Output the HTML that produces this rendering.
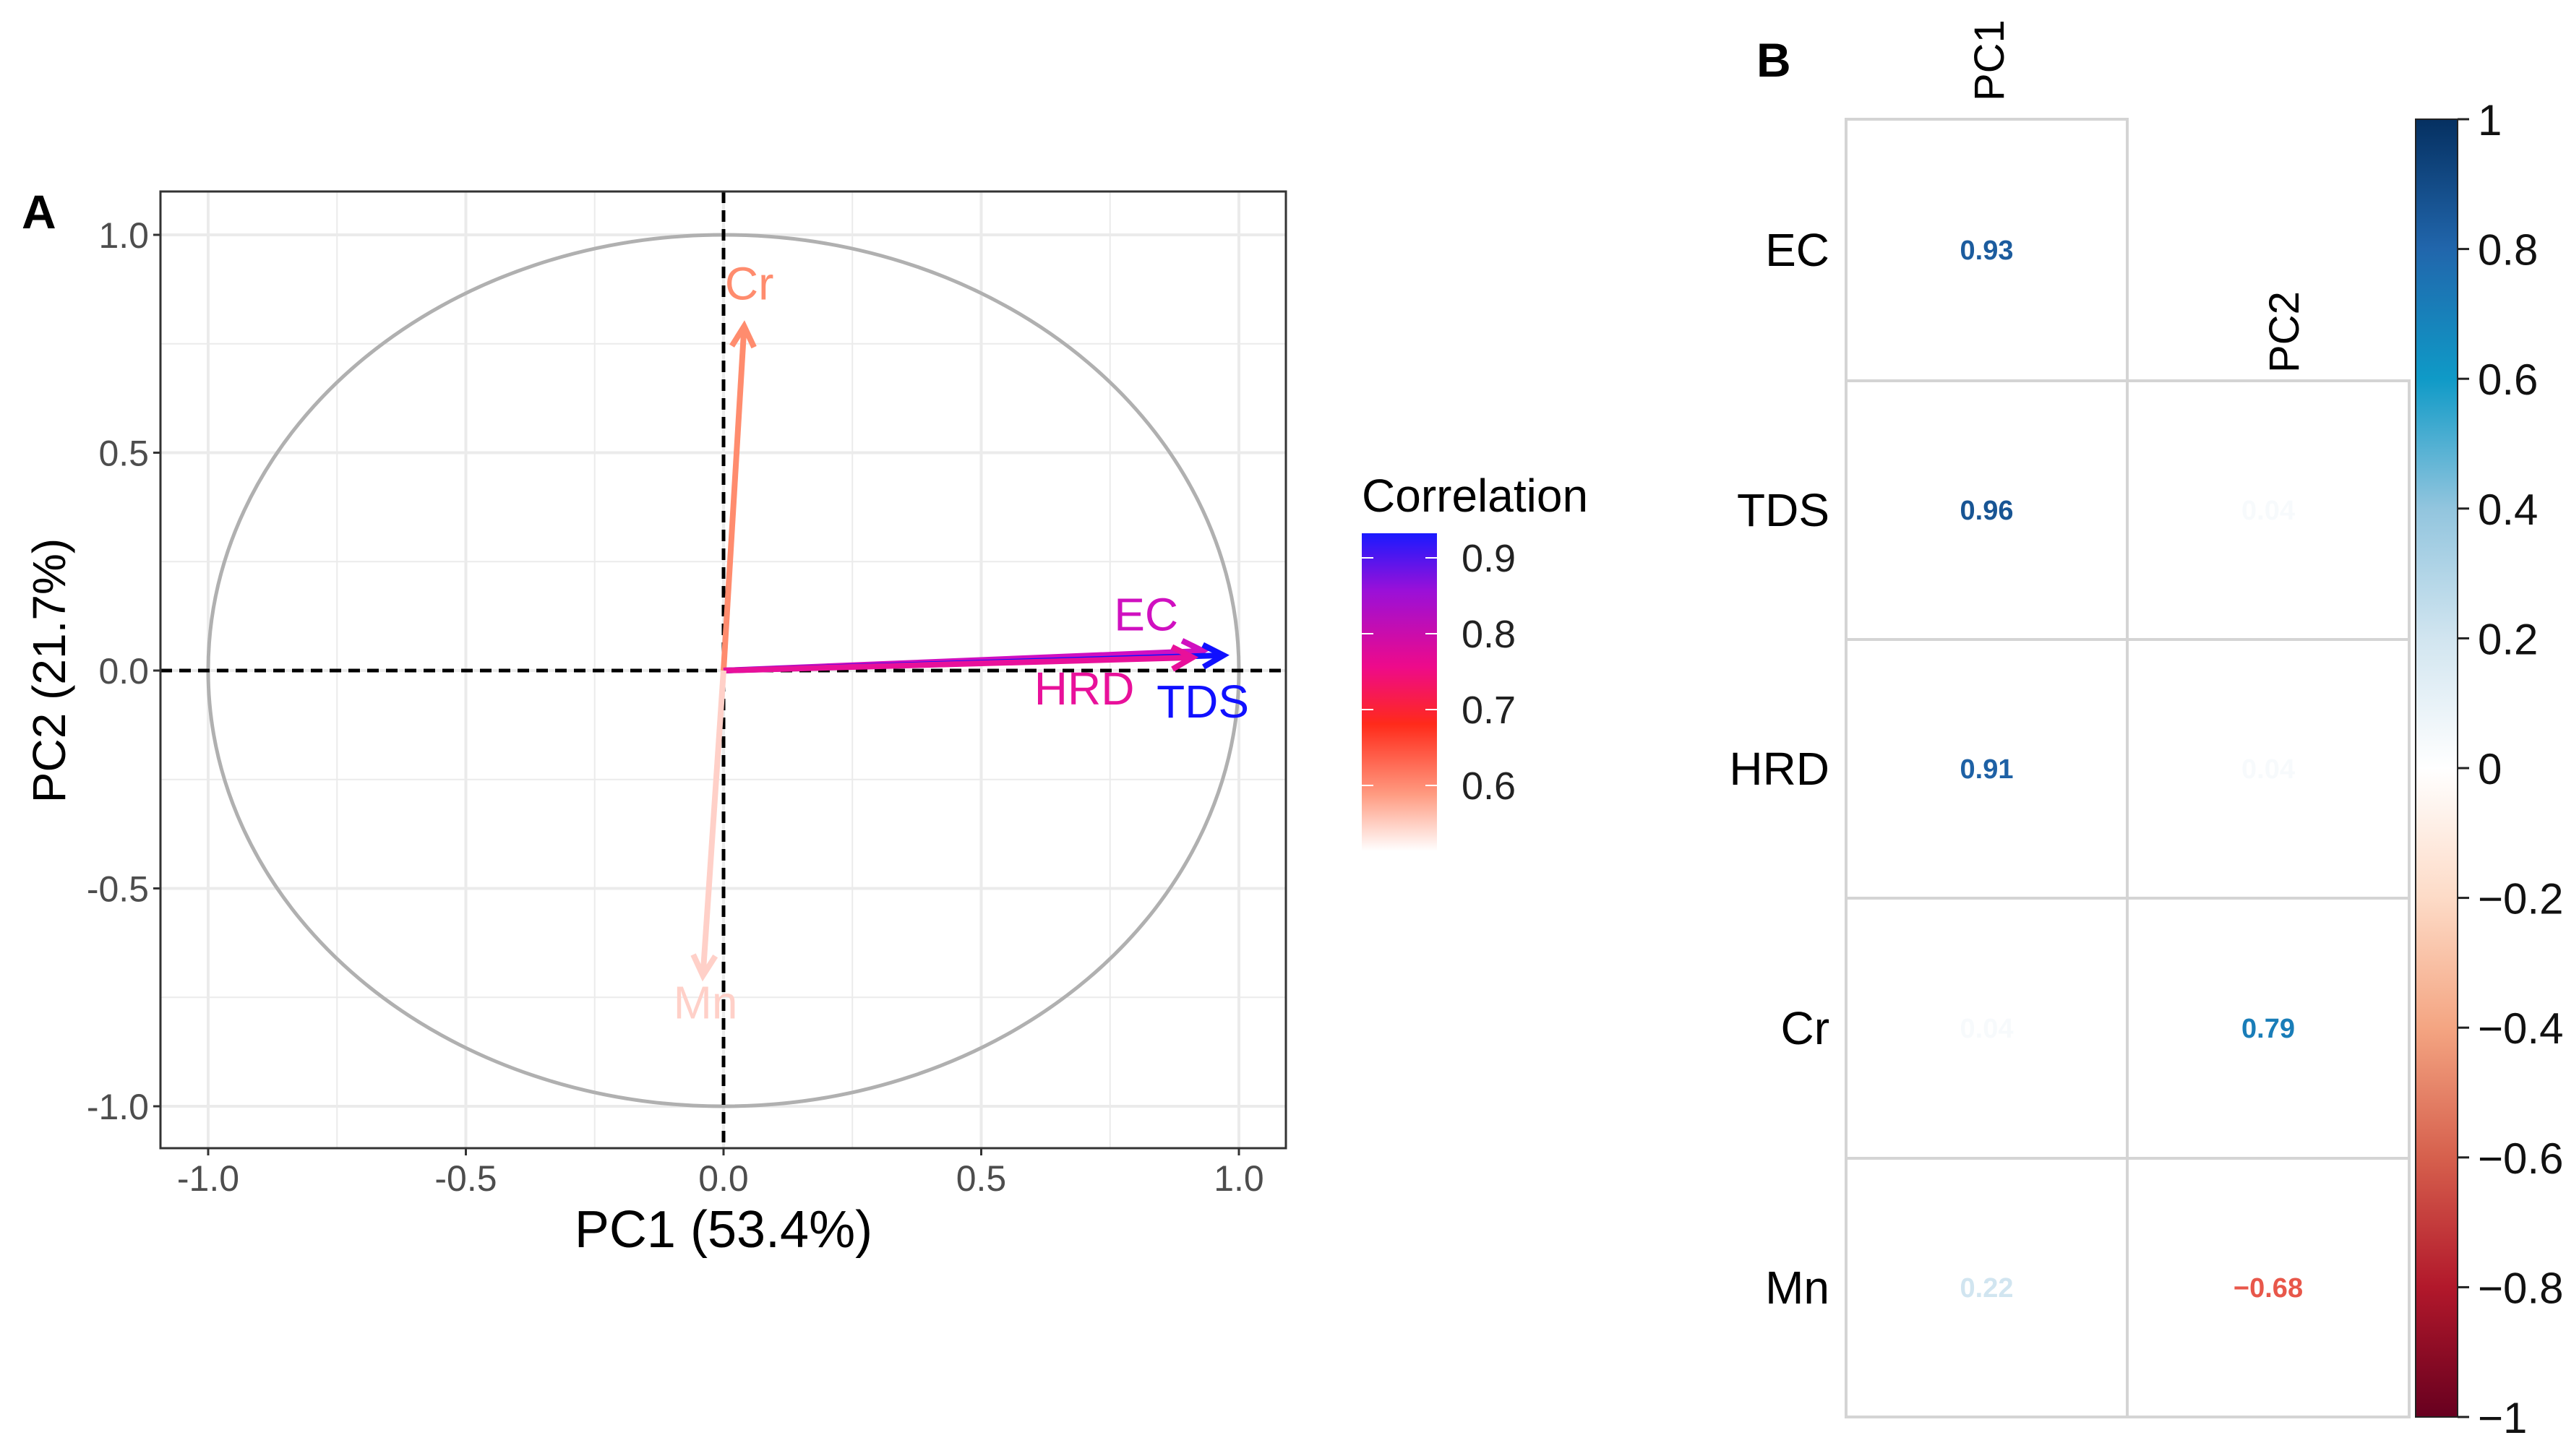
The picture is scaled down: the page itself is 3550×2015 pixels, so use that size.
<!DOCTYPE html>
<html><head><meta charset="utf-8"><style>
html,body{margin:0;padding:0;background:#fff;}
svg{display:block;font-family:"Liberation Sans",sans-serif;}
</style></head><body>
<svg id="fig" width="3550" height="2015" viewBox="0 0 3550 2015">
<defs>
<linearGradient id="corrGrad" x1="0" y1="0" x2="0" y2="1">
<stop offset="0" stop-color="#1a1aff"/><stop offset="0.18" stop-color="#9a10d8"/><stop offset="0.42" stop-color="#ee0a8a"/><stop offset="0.6" stop-color="#ff2a1a"/><stop offset="0.82" stop-color="#ff9a80"/><stop offset="1" stop-color="#ffffff"/>
</linearGradient>
<linearGradient id="rdbu" x1="0" y1="0" x2="0" y2="1">
<stop offset="0" stop-color="#053061"/><stop offset="0.1" stop-color="#2166ac"/><stop offset="0.2" stop-color="#0f9ac7"/><stop offset="0.3" stop-color="#92c5de"/><stop offset="0.4" stop-color="#d1e5f0"/><stop offset="0.5" stop-color="#ffffff"/><stop offset="0.6" stop-color="#fddbc7"/><stop offset="0.7" stop-color="#f4a582"/><stop offset="0.8" stop-color="#d6604d"/><stop offset="0.9" stop-color="#b2182b"/><stop offset="1" stop-color="#67001f"/>
</linearGradient>
</defs>
<g id="panelA"></g>
<g id="panelB"></g>
</svg>
<script>
const vars = ["Cr","EC","TDS","HRD","Mn"];
const pc1 = [0.04, 0.93, 0.97, 0.91, -0.04];
const pc2 = [0.79, 0.045, 0.035, 0.03, -0.70];
const arrowColors = ["#ff8c6e","#d010c0","#1010ff","#e8109a","#ffd0c8"];
const ticks = [-1.0,-0.5,0.0,0.5,1.0];
const tickLabels = ["-1.0","-0.5","0.0","0.5","1.0"];
const legendTicks = [0.9,0.8,0.7,0.6];
const rowNames = ["EC","TDS","HRD","Cr","Mn"];
const colNames = ["PC1","PC2"];
const loadPC1 = [0.93,0.96,0.91,0.04,0.22];
const loadPC2 = [null,0.04,0.04,0.79,-0.68];
const cbTicks = [1,0.8,0.6,0.4,0.2,0,-0.2,-0.4,-0.6,-0.8,-1];
const cbLabels = ["1","0.8","0.6","0.4","0.2","0","\u22120.2","\u22120.4","\u22120.6","\u22120.8","\u22121"];

const NS="http://www.w3.org/2000/svg";
function mk(parent,tag,attrs,text){const e=document.createElementNS(NS,tag);for(const k in attrs)e.setAttribute(k,attrs[k]);if(text!==undefined)e.textContent=text;parent.appendChild(e);return e;}

const A=document.getElementById('panelA');
const sx=v=>1001+v*713, sy=v=>928-v*603;
let e;
e=mk(A,'rect',{x:222,y:265,width:1557,height:1324,fill:'#fff'});


[-1,-0.75,-0.5,-0.25,0,0.25,0.5,0.75,1].forEach(t=>{
 e=mk(A,'line',{x1:sx(t),x2:sx(t),y1:265,y2:1589,stroke:'#ebebeb','stroke-width':t*4%2==0?4:2});
 
 
 e=mk(A,'line',{y1:sy(t),y2:sy(t),x1:222,x2:1779,stroke:'#ebebeb','stroke-width':t*4%2==0?4:2});
 
 
});
e=mk(A,'ellipse',{cx:sx(0),cy:sy(0),rx:713,ry:603,fill:'none',stroke:'#b0b0b0','stroke-width':5});


e=mk(A,'line',{x1:222,x2:1779,y1:sy(0),y2:sy(0),stroke:'#000','stroke-width':5,'stroke-dasharray':'16 10'});


e=mk(A,'line',{x1:sx(0),x2:sx(0),y1:265,y2:1589,stroke:'#000','stroke-width':5,'stroke-dasharray':'16 10'});


const labOff={Cr:[0.05,0.89,'middle'],EC:[0.82,0.13,'middle'],TDS:[0.93,-0.07,'middle'],HRD:[0.70,-0.04,'middle'],Mn:[-0.035,-0.76,'middle']};
vars.forEach((v,i)=>{
 const x2=sx(pc1[i]),y2=sy(pc2[i]),x1=sx(0),y1=sy(0);
 const ang=Math.atan2(y2-y1,x2-x1),L=32;
 e=mk(A,'line',{x1,y1,x2,y2,stroke:arrowColors[i],'stroke-width':8});
 
 
 e=mk(A,'polyline',{points:`${x2-L*Math.cos(ang-0.5)},${y2-L*Math.sin(ang-0.5)} ${x2},${y2} ${x2-L*Math.cos(ang+0.5)},${y2-L*Math.sin(ang+0.5)}`,fill:'none',stroke:arrowColors[i],'stroke-width':8});
 
 
 const o=labOff[v];
 e=mk(A,'text',{x:sx(o[0]),y:sy(o[1])+23,'text-anchor':o[2],'font-size':64,fill:arrowColors[i]},v);
 
 
});
e=mk(A,'rect',{x:222,y:265,width:1557,height:1324,fill:'none',stroke:'#333','stroke-width':3});


ticks.forEach((t,i)=>{
 e=mk(A,'text',{x:sx(t),y:1648,'text-anchor':'middle','font-size':50,fill:'#4d4d4d'},tickLabels[i]);
 
 
 e=mk(A,'text',{x:206,y:sy(t)+18,'text-anchor':'end','font-size':50,fill:'#4d4d4d'},tickLabels[i]);
 
 
 mk(A,'line',{x1:sx(t),x2:sx(t),y1:1589,y2:1599,stroke:'#333','stroke-width':3});
 mk(A,'line',{x1:212,x2:222,y1:sy(t),y2:sy(t),stroke:'#333','stroke-width':3});
});
e=mk(A,'text',{x:1001,y:1726,'text-anchor':'middle','font-size':72},'PC1 (53.4%)');


e=mk(A,'text',{x:0,y:0,'text-anchor':'middle','font-size':64,transform:'translate(90,928) rotate(-90)'},'PC2 (21.7%)');


e=mk(A,'text',{x:30,y:316,'font-size':66,'font-weight':'bold'},'A');


e=mk(A,'text',{x:1884,y:708,'font-size':64},'Correlation');


e=mk(A,'rect',{x:1884,y:738,width:104,height:440,fill:'url(#corrGrad)'});


const ly=v=>772+(0.9-v)*1050;
legendTicks.forEach(t=>{
 e=mk(A,'text',{x:2022,y:ly(t)+19,'font-size':54,fill:'#222'},t.toFixed(1));
 
 
 mk(A,'line',{x1:1884,x2:1900,y1:ly(t),y2:ly(t),stroke:'#fff','stroke-width':2});
 mk(A,'line',{x1:1972,x2:1988,y1:ly(t),y2:ly(t),stroke:'#fff','stroke-width':2});
});

const B=document.getElementById('panelB');
const colX=[2554,2943,3333], rowY=[165,527,885,1243,1603,1961];
function cellColor(v){
 const stops=[[-1,[103,0,31]],[-0.8,[178,24,43]],[-0.6,[214,96,77]],[-0.4,[244,165,130]],[-0.2,[253,219,199]],[0,[255,255,255]],[0.2,[209,229,240]],[0.4,[146,197,222]],[0.6,[15,154,199]],[0.8,[33,102,172]],[1,[5,48,97]]];
 for(let i=0;i<stops.length-1;i++){if(v<=stops[i+1][0]){const t=(v-stops[i][0])/0.2;const c=stops[i][1].map((a,k)=>Math.round(a+(stops[i+1][1][k]-a)*t));return `rgb(${c})`;}}
 return 'rgb(5,48,97)';
}
rowNames.forEach((r,i)=>{
 const top=rowY[i], bot=rowY[i+1];
 e=mk(B,'rect',{x:colX[0],y:top,width:colX[1]-colX[0],height:bot-top,fill:'#fff',stroke:'#d4d4d4','stroke-width':4});
 
 
 const yc=(rowY[i]+rowY[i+1])/2;
 e=mk(B,'text',{x:(colX[0]+colX[1])/2,y:yc+13,'text-anchor':'middle','font-size':38,'font-weight':'bold',fill:cellColor(loadPC1[i]*0.9)},loadPC1[i].toFixed(2));
 
 
 if(loadPC2[i]!==null){
  e=mk(B,'rect',{x:colX[1],y:rowY[i],width:colX[2]-colX[1],height:rowY[i+1]-rowY[i],fill:'#fff',stroke:'#d4d4d4','stroke-width':4});
  
  
  const v=loadPC2[i];
  e=mk(B,'text',{x:(colX[1]+colX[2])/2,y:yc+13,'text-anchor':'middle','font-size':38,'font-weight':'bold',fill:v<0?'#e8574a':cellColor(v*0.9)},(v<0?'\u2212':'')+Math.abs(v).toFixed(2));
  
  
 }
 e=mk(B,'text',{x:2531,y:yc+22,'text-anchor':'end','font-size':64},r);
 
 
});
[[2772,140],[3180,516]].forEach((p,i)=>{
 e=mk(B,'text',{x:0,y:0,'font-size':58,transform:`translate(${p[0]},${p[1]}) rotate(-90)`},colNames[i]);
 
 
});
e=mk(B,'text',{x:2430,y:106,'font-size':66,'font-weight':'bold'},'B');


e=mk(B,'rect',{x:3342,y:165,width:58,height:1796,fill:'url(#rdbu)',stroke:'#222','stroke-width':2});


const cby=v=>165+(1-v)*898;
cbTicks.forEach((t,i)=>{
 mk(B,'line',{x1:3400,x2:3416,y1:cby(t),y2:cby(t),stroke:'#222','stroke-width':3});
 e=mk(B,'text',{x:3428,y:cby(t)+22,'font-size':60,fill:'#111'},cbLabels[i]);
 
 
});
</script>
</body></html>
